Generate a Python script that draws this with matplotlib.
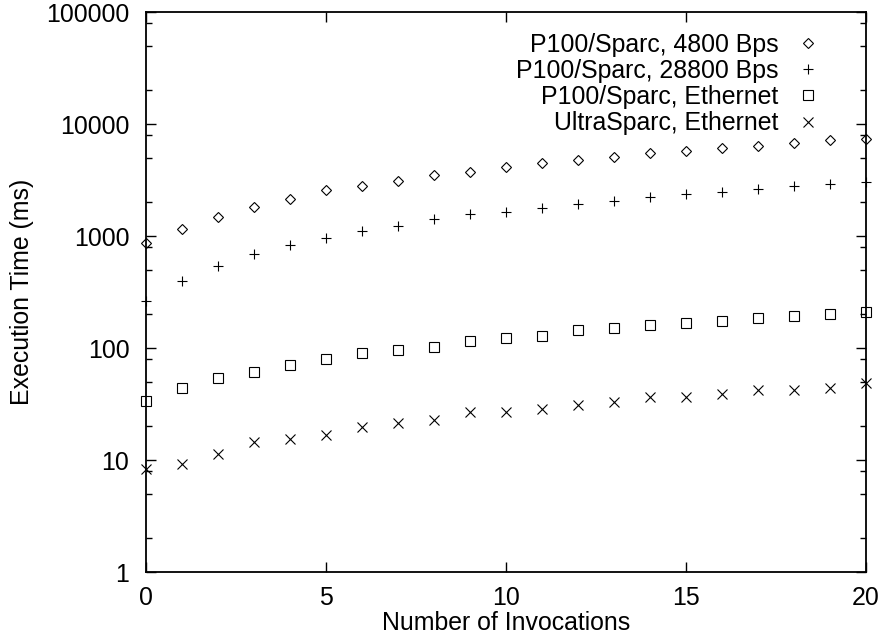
import matplotlib
matplotlib.use("Agg")
import matplotlib.pyplot as plt
from matplotlib.ticker import FixedLocator, NullFormatter, NullLocator

plt.rcParams['font.family'] = ['Liberation Sans', 'DejaVu Sans']

invocations = list(range(21))
p100_4800 = [870, 1155, 1490, 1830, 2140, 2580, 2780, 3100, 3480, 3750, 4100,
             4460, 4750, 5110, 5470, 5780, 6110, 6370, 6810, 7150, 7390]
p100_28800 = [263, 394, 543, 686, 826, 966, 1109, 1236, 1410, 1571, 1648,
              1790, 1919, 2066, 2230, 2356, 2488, 2630, 2780, 2897, 3054]
p100_ethernet = [33.8, 44.2, 53.6, 60.7, 70, 79.7, 89.7, 96, 102.7, 115.5, 123,
                 128.8, 144.8, 150, 160.5, 166, 175, 184, 193, 201, 209.6]
ultra_ethernet = [8.26, 9.27, 11.4, 14.4, 15.4, 16.6, 19.6, 21.5, 22.8, 26.7, 26.7,
                  28.7, 30.8, 33, 36.7, 36.7, 38.8, 42.2, 42.2, 44.2, 48.4]
labels = ["P100/Sparc, 4800 Bps", "P100/Sparc, 28800 Bps",
          "P100/Sparc, Ethernet", "UltraSparc, Ethernet"]
xticks = [0, 5, 10, 15, 20]
yticks = [1, 10, 100, 1000, 10000, 100000]

FS = 17.9
fig = plt.figure(figsize=(8.8, 6.39), dpi=100)
ax = fig.add_axes([146/880, 1-572/639, (866-146)/880, (572-12)/639])

mk = dict(linestyle='none', color='black', clip_on=False, zorder=3)
ax.plot(invocations, p100_4800, marker='D', markersize=5.0, markerfacecolor='none',
        markeredgewidth=0.8, label=labels[0], **mk)
ax.plot(invocations, p100_28800, marker='+', markersize=7.5,
        markeredgewidth=0.8, label=labels[1], **mk)
ax.plot(invocations, p100_ethernet, marker='s', markersize=6.5, markerfacecolor='none',
        markeredgewidth=0.8, label=labels[2], **mk)
ax.plot(invocations, ultra_ethernet, marker='x', markersize=6.5,
        markeredgewidth=0.8, label=labels[3], **mk)

ax.set_yscale('log')
ax.set_xlim(0, 20)
ax.set_ylim(1, 100000)
ax.set_xticks(xticks)
ax.set_xticklabels([str(v) for v in xticks])
ax.xaxis.set_minor_locator(NullLocator())
ax.yaxis.set_major_locator(FixedLocator(yticks))
ax.set_yticklabels([str(v) for v in yticks])
minor = [m * d for d in [1, 10, 100, 1000, 10000] for m in (2, 5, 8)]
ax.yaxis.set_minor_locator(FixedLocator(minor))
ax.yaxis.set_minor_formatter(NullFormatter())

ax.tick_params(which='both', direction='in', top=True, right=True,
               labelsize=FS, width=1.0, colors='black')
ax.tick_params(which='major', length=7)
ax.tick_params(axis='y', which='major', pad=12)
ax.tick_params(axis='x', which='major', pad=10)
ax.tick_params(which='minor', length=4)
for s in ax.spines.values():
    s.set_linewidth(1.3)

ax.set_xlabel("Number of Invocations", fontsize=FS, labelpad=1)
ax.set_ylabel("Execution Time (ms)", fontsize=FS, labelpad=9)

leg = ax.legend(loc='upper right', bbox_to_anchor=(0.937, 0.963),
                frameon=False, markerfirst=False, fontsize=FS,
                handlelength=1.0, handletextpad=0.7, labelspacing=0.09,
                borderpad=0.0, borderaxespad=0.0, numpoints=1)

fig.savefig("out.png", dpi=100)
